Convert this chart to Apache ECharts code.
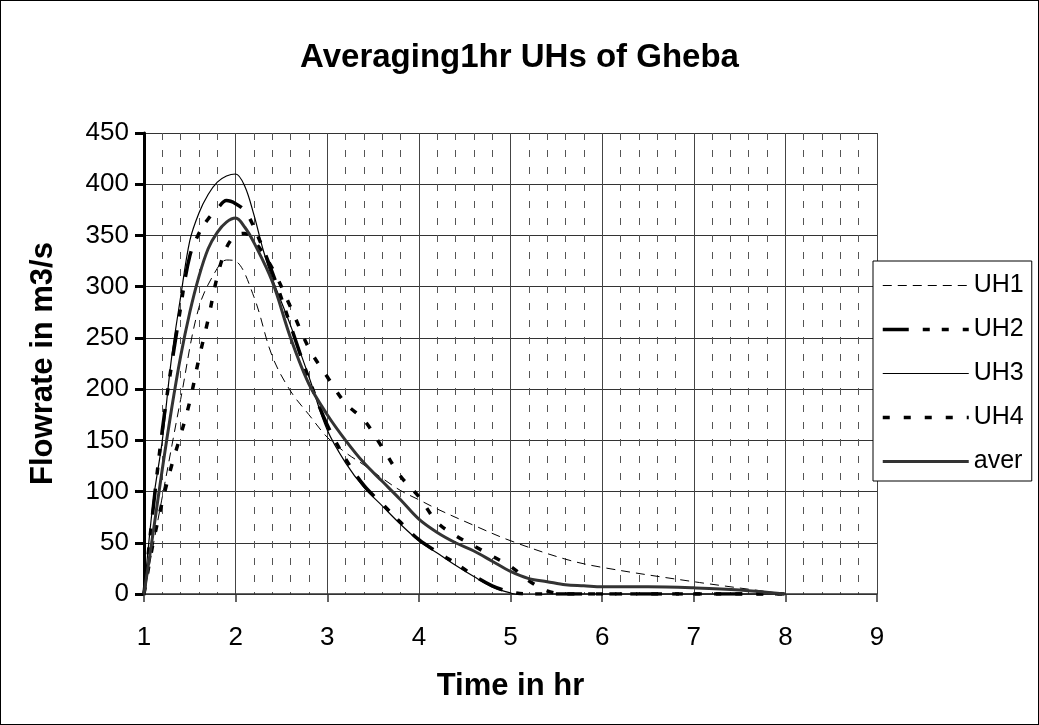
<!DOCTYPE html>
<html>
<head>
<meta charset="utf-8">
<script src="https://cdn.jsdelivr.net/npm/echarts@6/dist/echarts.min.js"></script>
<style>
  html, body { margin: 0; padding: 0; background: #fff; }
  #chart { width: 1039px; height: 725px; box-sizing: border-box; border: 1px solid #000; }
</style>
</head>
<body>
<div id="chart"></div>
<script>
// values: [time in hr, flowrate in m3/s]
var uh1 = [[1,0],[1.2,95],[1.4,190],[1.6,280],[1.8,318],[1.9,326],[2.0,325],[2.2,290],[2.4,232],[2.6,198],[2.8,175],[3.0,153],[3.2,138],[3.4,126],[3.6,113],[3.8,101],[4.0,92],[4.2,83],[4.6,67],[5.0,52],[5.6,34],[6.0,26],[7.0,12],[8.0,0]];
var uh2 = [[1,0],[1.2,160],[1.4,280],[1.5,330],[1.6,352],[1.7,366],[1.8,376],[1.9,384],[2.0,381],[2.1,374],[2.2,358],[2.4,314],[2.6,262],[2.8,210],[3.0,165],[3.2,132],[3.4,106],[3.6,88],[3.8,70],[4.0,53],[4.2,41],[4.4,30],[4.6,18],[4.8,8],[5.0,2],[5.2,0],[5.6,0],[6,0],[7,0],[8,0]];
var uh3 = [[1,0],[1.1,90],[1.2,150],[1.3,230],[1.4,290],[1.5,345],[1.6,372],[1.7,390],[1.8,402],[1.9,408],[2.0,410],[2.1,398],[2.2,370],[2.3,336],[2.4,308],[2.6,262],[2.8,212],[3.0,160],[3.2,128],[3.4,104],[3.6,86],[3.8,68],[4.0,52],[4.2,40],[4.4,28],[4.6,17],[4.8,7],[5.0,1],[5.2,-3],[5.4,0],[6,0],[7,0],[8,0]];
var uh4 = [[1,0],[1.1,50],[1.2,90],[1.3,125],[1.4,155],[1.5,188],[1.6,230],[1.7,268],[1.8,310],[1.9,338],[2.0,350],[2.1,352],[2.2,345],[2.4,318],[2.6,280],[2.8,240],[3.0,212],[3.2,186],[3.4,170],[3.6,143],[3.8,115],[4.0,95],[4.2,70],[4.4,57],[4.6,47],[4.8,37],[5.0,27],[5.2,13],[5.4,3],[5.6,0],[6,0],[7,0],[8,0]];
var aver = [[1,0],[1.1,60],[1.2,122],[1.3,180],[1.4,232],[1.5,275],[1.6,310],[1.7,337],[1.8,353],[1.9,363],[2.0,367],[2.1,358],[2.2,343],[2.4,305],[2.6,250],[2.8,205],[3.0,175],[3.2,150],[3.4,128],[3.6,110],[3.8,92],[4.0,73],[4.2,60],[4.4,50],[4.6,42],[4.8,32],[5.0,22],[5.2,15],[5.4,12],[5.6,9],[5.8,8],[6.0,7],[6.5,7],[7.0,6],[7.5,4],[8.0,0]];

var seriesNames = ['UH1', 'UH2', 'UH3', 'UH4', 'aver'];

var chart = echarts.init(document.getElementById('chart'));

var font = 'Liberation Sans, Arial, sans-serif';

function lineSeries(name, data, style) {
    return {
        name: name,
        type: 'line',
        data: data,
        smooth: 0.35,
        symbol: 'none',
        animation: false,
        itemStyle: { color: '#000' },
        lineStyle: style
    };
}

option = {
    // 标题
    title: {
        text: 'Averaging1hr UHs of Gheba',
        left: 'center',
        top: 35,
        textStyle: { fontFamily: font, fontSize: 33, fontWeight: 'bold', color: '#000' }
    },
    grid: {
        left: 143,
        right: 161,
        top: 132,
        bottom: 130
    },
    // 图例
    legend: {
        data: seriesNames,
        orient: 'vertical',
        left: 872,
        top: 260,
        itemWidth: 86,
        itemHeight: 14,
        itemGap: 19,
        padding: [12, 8, 7, 8],
        borderColor: '#000',
        borderWidth: 1,
        backgroundColor: '#fff',
        itemStyle: { opacity: 0 },
        lineStyle: { width: 'inherit' },
        textStyle: { fontFamily: font, fontSize: 25, color: '#000', width: 58 }
    },
    xAxis: {
        type: 'value',
        min: 1,
        max: 9,
        interval: 1,
        name: 'Time in hr',
        nameLocation: 'middle',
        nameGap: 77,
        nameTextStyle: { fontFamily: font, fontSize: 31, fontWeight: 'bold', color: '#000' },
        axisLine: { onZero: false, lineStyle: { color: '#333', width: 1.5 } },
        axisTick: { show: true, length: 8, lineStyle: { color: '#333', width: 1.5 } },
        axisLabel: { fontFamily: font, fontSize: 26, color: '#000', margin: 31 },
        splitLine: { show: true, lineStyle: { color: '#444', width: 1 } },
        minorTick: { show: true, splitNumber: 5, length: 0 },
        minorSplitLine: { show: true, lineStyle: { color: '#555', width: 1, type: [7, 10] } }
    },
    yAxis: {
        type: 'value',
        min: 0,
        max: 450,
        interval: 50,
        name: 'Flowrate in m3/s',
        nameLocation: 'middle',
        nameGap: 85,
        nameTextStyle: { fontFamily: font, fontSize: 31, fontWeight: 'bold', color: '#000' },
        axisLine: { show: true, lineStyle: { color: '#000', width: 3 } },
        axisTick: { show: true, length: 9, lineStyle: { color: '#000', width: 3 } },
        axisLabel: { fontFamily: font, fontSize: 26, color: '#000', margin: 15 },
        splitLine: { show: true, lineStyle: { color: '#333', width: 1 } }
    },
    series: [
        lineSeries('UH1', uh1, { color: '#000', width: 1, type: [9, 6] }),
        lineSeries('UH2', uh2, { color: '#000', width: 3.5, type: [26, 14, 7, 12, 7, 14] }),
        lineSeries('UH3', uh3, { color: '#000', width: 1.2, type: 'solid' }),
        lineSeries('UH4', uh4, { color: '#000', width: 3.5, type: [7, 14] }),
        lineSeries('aver', aver, { color: '#333', width: 3, type: 'solid' })
    ]
};

chart.setOption(option);
</script>
</body>
</html>
